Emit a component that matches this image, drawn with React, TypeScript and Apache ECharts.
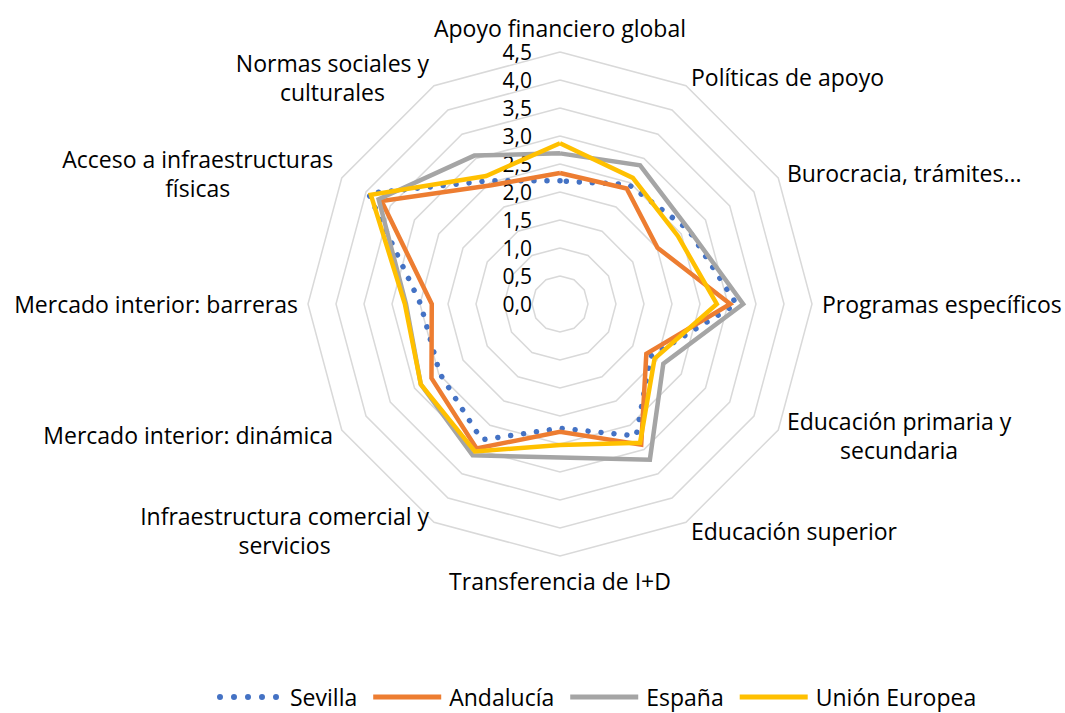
import React, { useEffect, useRef } from 'react';
import * as echarts from 'echarts';

// Categories in clockwise order starting at the top
const categories: string[] = [
  'Apoyo financiero global',
  'Políticas de apoyo',
  'Burocracia, trámites...',
  'Programas específicos',
  'Educación primaria y\nsecundaria',
  'Educación superior',
  'Transferencia de I+D',
  'Infraestructura comercial y\nservicios',
  'Mercado interior: dinámica',
  'Mercado interior: barreras',
  'Acceso a infraestructuras\nfísicas',
  'Normas sociales y\nculturales',
];

const sevilla: number[] = [2.2, 2.46, 2.65, 3.15, 1.87, 2.72, 2.22, 2.8, 2.48, 2.49, 3.95, 2.54];
const andalucia: number[] = [2.34, 2.38, 2.01, 3.04, 1.78, 2.9, 2.28, 2.98, 2.65, 2.29, 3.68, 2.45];
const espana: number[] = [2.69, 2.86, 2.66, 3.27, 2.13, 3.21, 2.74, 3.12, 2.87, 2.75, 3.74, 3.06];
const unionEuropea: number[] = [2.87, 2.6, 2.43, 2.8, 1.95, 2.86, 2.52, 3.04, 2.87, 2.77, 3.9, 2.64];

const seriesNames: string[] = ['Sevilla', 'Andalucía', 'España', 'Unión Europea'];
const seriesColors: string[] = ['#4472C4', '#ED7D31', '#A5A5A5', '#FFC000'];

const axisMin = 0;
const axisMax = 4.5;
const axisSplitNumber = 9;

const FONT = '"Open Sans", Lato, sans-serif';
const FS = 23;

// ECharts places radar indicators counter-clockwise; reorder so they read clockwise
const order = [0, ...Array.from({ length: categories.length - 1 }, (_, i) => categories.length - 1 - i)];
const reorder = (arr: any[]) => order.map((i) => arr[i]);

function dotsPath(): string {
  const r = 3;
  const parts: string[] = [];
  for (let i = 0; i < 5; i++) {
    const cx = r + i * 14;
    parts.push(`M${cx - r},${r} a${r},${r} 0 1,0 ${2 * r},0 a${r},${r} 0 1,0 ${-2 * r},0 Z`);
  }
  return 'path://' + parts.join(' ');
}
const linePath = 'path://M0,0 L68,0 L68,4.8 L0,4.8 Z';

export default function App() {
  const ref = useRef<HTMLDivElement>(null);

  useEffect(() => {
    document.body.style.margin = '0';
    if (!ref.current) return;
    const chart = echarts.init(ref.current, undefined, { renderer: 'svg' });
    const seriesValues = [sevilla, andalucia, espana, unionEuropea];

    const indicator = reorder(categories).map((name: string, idx: number) => {
      const ind: any = { name, min: axisMin, max: axisMax };
      if (idx === 0) {
        ind.axisLabel = {
          show: true,
          margin: 28,
          lineHeight: 20,
          color: '#000',
          fontSize: 21,
          fontFamily: FONT,
          formatter: (v: number) => v.toFixed(1).replace('.', ','),
        };
      }
      return ind;
    });

    const option: any = {
      animation: false,
      textStyle: { fontFamily: FONT },
      legend: {
        left: 212,
        top: 680,
        itemWidth: 68,
        itemHeight: 6,
        itemGap: 16,
        textStyle: { fontSize: FS, lineHeight: 24, color: '#000', fontFamily: FONT, padding: [0, 0, 0, 3] },
        data: seriesNames.map((n, i) => ({
          name: n,
          icon: i === 0 ? dotsPath() : linePath,
          itemStyle: { color: seriesColors[i], borderWidth: 0 },
        })),
      },
      radar: {
        center: [560, 304],
        radius: 252,
        shape: 'polygon',
        splitNumber: axisSplitNumber,
        startAngle: 90,
        nameGap: 10,
        axisName: {
          color: '#000',
          fontSize: FS,
          fontFamily: FONT,
          formatter: (name: string) =>
            name
              .split('\n')
              .map((l) => `{c|${l}}`)
              .join('\n'),
          rich: {
            c: { align: 'center', fontSize: FS, fontFamily: FONT, color: '#000', lineHeight: 29 },
          },
        },
        axisLine: { show: false },
        axisTick: { show: false },
        axisLabel: { show: false },
        splitLine: { lineStyle: { color: '#D9D9D9', width: 1.5 } },
        splitArea: { show: false },
        indicator,
      },
      series: [
        {
          type: 'radar',
          symbol: 'none',
          data: seriesValues.map((vals, i) => ({
            name: seriesNames[i],
            value: reorder(vals),
            itemStyle: { color: seriesColors[i] },
            lineStyle:
              i === 0
                ? { color: seriesColors[i], width: 5.5, type: [0.01, 13], cap: 'round' }
                : { color: seriesColors[i], width: 4.5, type: 'solid', join: 'miter' },
          })),
        },
      ],
    };
    chart.setOption(option);
    return () => chart.dispose();
  }, []);

  return <div ref={ref} style={{ width: 1065, height: 713 }} />;
}
